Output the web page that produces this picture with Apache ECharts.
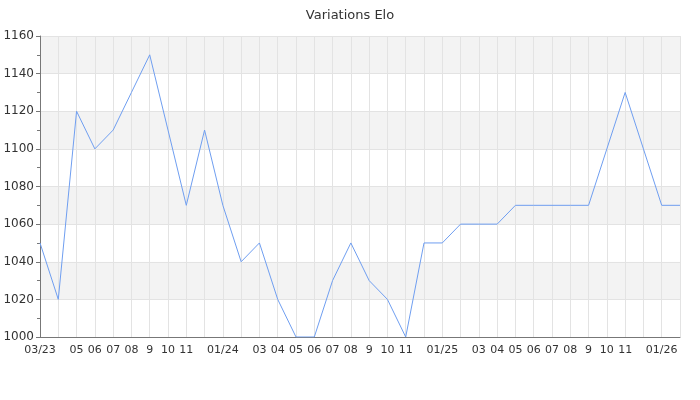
<!DOCTYPE html>
<html>
<head>
<meta charset="utf-8">
<script src="https://cdn.jsdelivr.net/npm/echarts@6/dist/echarts.min.js"></script>
<style>
  html, body { margin: 0; padding: 0; background: #fff; }
  #chart { width: 700px; height: 400px; }
</style>
</head>
<body>
<div id="chart"></div>
<script>
// mois (mars 2023 -> février 2026)
const months = [
  '2023-03', '2023-04', '2023-05', '2023-06', '2023-07', '2023-08', '2023-09', '2023-10', '2023-11', '2023-12',
  '2024-01', '2024-02', '2024-03', '2024-04', '2024-05', '2024-06', '2024-07', '2024-08', '2024-09', '2024-10', '2024-11', '2024-12',
  '2025-01', '2025-02', '2025-03', '2025-04', '2025-05', '2025-06', '2025-07', '2025-08', '2025-09', '2025-10', '2025-11', '2025-12',
  '2026-01', '2026-02'
]
// étiquettes affichées sous l'axe
const tickLabels = [
  '03/23', '', '05', '06', '07', '08', '9', '10', '11', '',
  '01/24', '', '03', '04', '05', '06', '07', '08', '9', '10', '11', '',
  '01/25', '', '03', '04', '05', '06', '07', '08', '9', '10', '11', '',
  '01/26', ''
]
const elo = [
  1050, 1020, 1120, 1100, 1110, 1130, 1150, 1110, 1070, 1110,
  1070, 1040, 1050, 1020, 1000, 1000, 1030, 1050, 1030, 1020, 1000, 1050,
  1050, 1060, 1060, 1060, 1070, 1070, 1070, 1070, 1070, 1100, 1130, 1100,
  1070, 1070
]

const chart = echarts.init(document.getElementById('chart'))

const option = {
  backgroundColor: '#fff',
  animation: false,
  textStyle: { fontFamily: 'DejaVu Sans' },
  title: {
    text: 'Variations Elo',
    left: 'center',
    top: 4,
    textStyle: { fontSize: 13, fontWeight: 'normal', color: '#333', fontFamily: 'DejaVu Sans' }
  },
  grid: { left: 40, right: 20, top: 36, bottom: 63 },
  xAxis: {
    type: 'category',
    data: months,
    boundaryGap: false,
    axisLine: { lineStyle: { color: '#777' } },
    axisTick: { show: false },
    axisLabel: {
      interval: 0,
      color: '#333',
      fontSize: 11,
      margin: 8,
      formatter: (v, i) => tickLabels[i]
    },
    splitLine: { show: true, interval: 0, lineStyle: { color: '#e3e3e3' } }
  },
  yAxis: {
    type: 'value',
    min: 1000,
    max: 1160,
    interval: 20,
    axisLine: { show: true, lineStyle: { color: '#777' } },
    axisTick: { show: true, length: 4, lineStyle: { color: '#777' } },
    minorTick: { show: true, splitNumber: 2, length: 3, lineStyle: { color: '#777' } },
    axisLabel: { color: '#333', fontSize: 12, margin: 6, formatter: v => String(v) },
    splitLine: { lineStyle: { color: '#e3e3e3' } },
    splitArea: { show: true, areaStyle: { color: ['#ffffff', '#f3f3f3'] } }
  },
  series: [
    {
      name: 'Elo',
      type: 'line',
      data: elo,
      showSymbol: false,
      lineStyle: { color: '#6f9ef0', width: 1 },
      itemStyle: { color: '#6f9ef0' }
    }
  ]
}

chart.setOption(option)
</script>
</body>
</html>
